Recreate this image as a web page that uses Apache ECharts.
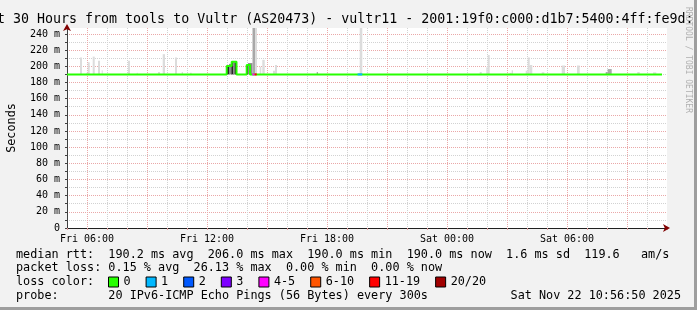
<!DOCTYPE html>
<html><head><meta charset="utf-8">
<script src="https://cdn.jsdelivr.net/npm/echarts@6/dist/echarts.min.js"></script>
<style>html,body{margin:0;padding:0;background:#f2f2f2;}#c{width:697px;height:310px;}</style>
</head><body><div id="c"></div>
<script>
// ---------------- data (hours since Fri 00:00, milliseconds) ----------------
const xTickHours  = [6, 12, 18, 24, 30];
const xTickLabels = ['Fri 06:00', 'Fri 12:00', 'Fri 18:00', 'Sat 00:00', 'Sat 06:00'];
const yTickValues = [0, 20, 40, 60, 80, 100, 120, 140, 160, 180, 200, 220, 240];
const yTickLabels = ['0', '20 m', '40 m', '60 m', '80 m', '100 m', '120 m', '140 m', '160 m', '180 m', '200 m', '220 m', '240 m'];

const medianHours = [5, 12.985, 13.235, 13.475, 13.985, 14.15, 34.75];
const medianMs    = [190, 200.5, 205.7, 190, 201.6, 190, 190];

const lossClasses = ['0', '1', '2', '3', '4-5', '6-10', '11-19', '20/20'];
const lossStart = [14.265, 14.385, 19.53];
const lossEnd   = [14.385, 14.485, 19.765];
const lossClass = ['4-5', '11-19', '1'];
const lossMs    = [190, 190, 190];

const smokeStart  = [5.65, 5.965, 6.035, 6.285, 6.55, 6.735, 8.05, 8.485, 9.55, 9.785, 10.4, 10.735, 11.15,
                     12.985, 13.1, 13.215, 13.325, 13.375, 13.985, 14.05, 14.275, 14.4, 14.635, 14.765, 15.3, 15.4,
                     17.485, 19.635, 25.635, 25.965, 26.035, 27.135, 27.235, 27.935, 28.035, 28.135, 28.735, 29.735,
                     30.5, 31.935, 32.035, 33.515, 34.3];
const smokeEnd    = [5.75, 6.035, 6.135, 6.385, 6.65, 6.785, 8.15, 8.535, 9.65, 9.9, 10.5, 10.8, 11.235,
                     13.1, 13.215, 13.325, 13.375, 13.5, 14.05, 14.275, 14.4, 14.5, 14.715, 14.885, 15.4, 15.5,
                     17.55, 19.765, 25.735, 26.035, 26.135, 27.235, 27.3, 28.035, 28.135, 28.265, 28.865, 29.9,
                     30.635, 32.035, 32.235, 33.635, 34.465];
const smokeBottom = [190, 190, 190, 190, 190, 190, 190, 190, 190, 190, 190, 190, 190,
                     190, 190, 190, 190, 190, 190, 190, 190, 190, 190, 190, 190, 190,
                     190, 190, 190, 190, 190, 190, 190, 190, 190, 190, 190, 190,
                     190, 190, 190, 190, 190];
const smokeTop    = [211, 192, 205, 212, 207, 195, 207, 192, 193, 215, 211, 193, 192,
                     200.5, 203, 205.7, 205, 205, 201.6, 204, 250, 250, 199.5, 208, 194.6, 201.6,
                     193, 250, 193, 198.8, 214, 192, 195, 194.6, 211, 201.6, 192.6, 201,
                     201, 193, 196.6, 193, 192.5];
// smoke density class: 0 sparse ... 3 dense
const smokeDensity = [0, 0, 0, 0, 0, 0, 0, 0, 0, 0, 0, 0, 0,
                      3, 2, 3, 2, 3, 3, 2, 1, 0, 0, 0, 0, 0,
                      1, 0, 0, 0, 0, 0, 0, 0, 0, 0, 0, 0,
                      0, 1, 1, 0, 0];

const rttStats  = ['190.2 ms avg', '206.0 ms max', '190.0 ms min', '190.0 ms now', '1.6 ms sd', '119.6   am/s'];
const lossStats = ['0.15 % avg', '26.13 % max', '0.00 % min', '0.00 % now'];
const probeText = '20 IPv6-ICMP Echo Pings (56 Bytes) every 300s';
const stampText = 'Sat Nov 22 10:56:50 2025';
const titleText = 'Last 30 Hours from tools to Vultr (AS20473) - vultr11 - 2001:19f0:c000:d1b7:5400:4ff:fe9d:c';

// ---------------- styles ----------------
const MONO = "'DejaVu Sans Mono', monospace";
const lossColors = {'0':'#26ff00','1':'#00b8ff','2':'#0059ff','3':'#7e00ff','4-5':'#ff00ff','6-10':'#ff5500','11-19':'#ff0000','20/20':'#a10000'};
const shadeColors = ['#dcdcdc', '#a8a8a8', '#8a8a8a', '#262626'];
const GRID = '#d2d2d2', MGRID = '#eaa8a8';

const chart = echarts.init(document.getElementById('c'), null, {renderer: 'canvas'});

const smokeData = smokeStart.map((s, i) => [s, smokeEnd[i], smokeBottom[i], smokeTop[i], smokeDensity[i]]);

const series = [{
  type: 'custom', name: 'smoke', xAxisIndex: 0, yAxisIndex: 0, z: 2, silent: true,
  encode: {x: [0, 1], y: [2, 3]},
  data: smokeData,
  renderItem: function (params, api) {
    const p0 = api.coord([api.value(0), api.value(3)]);
    const p1 = api.coord([api.value(1), api.value(2)]);
    const shape = echarts.graphic.clipRectByRect(
      {x: p0[0], y: p0[1], width: p1[0] - p0[0], height: p1[1] - p0[1]},
      {x: params.coordSys.x, y: params.coordSys.y, width: params.coordSys.width, height: params.coordSys.height});
    return shape && {type: 'rect', shape: shape, style: {fill: shadeColors[api.value(4)]}};
  }
}, {
  type: 'line', name: '0', z: 5, step: 'end', symbol: 'none', silent: true,
  data: medianHours.map((h, i) => [h, medianMs[i]]),
  lineStyle: {color: lossColors['0'], width: 2},
  itemStyle: {color: lossColors['0']}
}];
lossClasses.slice(1).forEach(c => {
  const d = [];
  lossClass.forEach((k, i) => { if (k === c) { if (d.length) d.push('-'); d.push([lossStart[i], lossMs[i]], [lossEnd[i], lossMs[i]]); } });
  series.push({type: 'line', name: c, z: 6, symbol: 'none', silent: true, data: d,
    lineStyle: {color: lossColors[c], width: 2}, itemStyle: {color: lossColors[c]}});
});

const legendLines = [
  'median rtt:  ' + rttStats.join('  '),
  'packet loss: ' + lossStats.join('  '),
  'loss color:',
  'probe:       ' + probeText
];

chart.setOption({
  animation: false,
  backgroundColor: '#f2f2f2',
  grid: {left: 67, top: 28, width: 600, height: 200, show: true, backgroundColor: '#ffffff', borderWidth: 0,
         containLabel: false, outerBoundsMode: 'none'},
  xAxis: [{
    type: 'value', position: 'bottom', min: 5, max: 35, interval: 1,
    axisLine: {show: true, onZero: false, lineStyle: {color: '#202020', width: 1}},
    axisTick: {show: true, length: 2, lineStyle: {color: '#e49b9b'}},
    axisLabel: {margin: 6, fontFamily: MONO, fontSize: 10, color: '#000', showMinLabel: true, showMaxLabel: true,
      formatter: v => { const i = xTickHours.indexOf(Math.round(v * 1000) / 1000); return i >= 0 ? xTickLabels[i] : ''; }},
    splitLine: {show: true, showMinLine: true, showMaxLine: false, lineStyle: {color: [GRID, MGRID, GRID], type: 'dotted', width: 1}}
  }, {
    type: 'value', position: 'bottom', min: 5, max: 35, interval: 1,
    axisLine: {show: true, onZero: false, lineStyle: {color: '#800000', width: 0}, symbol: ['none', 'arrow'], symbolSize: [6, 7], symbolOffset: [0, 3]},
    axisTick: {show: false}, axisLabel: {show: false}, splitLine: {show: false}
  }],
  yAxis: [{
    type: 'value', position: 'left', min: 0, max: 247.4, interval: 10,
    name: 'Seconds', nameLocation: 'middle', nameGap: 49, nameRotate: 90,
    nameTextStyle: {fontFamily: MONO, fontSize: 11.8, color: '#000'},
    axisLine: {show: true, onZero: false, lineStyle: {color: '#404040', width: 1}},
    axisTick: {show: true, length: 2, lineStyle: {color: '#404040'}},
    axisLabel: {margin: 7, fontFamily: MONO, fontSize: 10, color: '#000',
      formatter: v => { const i = yTickValues.indexOf(Math.round(v * 1000) / 1000); return i >= 0 ? yTickLabels[i] : ''; }},
    splitLine: {show: true, showMinLine: true, showMaxLine: false, lineStyle: {color: [MGRID, GRID], type: 'dotted', width: 1}}
  }, {
    type: 'value', position: 'left', min: 0, max: 247.4, interval: 10,
    axisLine: {show: true, onZero: false, lineStyle: {color: '#800000', width: 0}, symbol: ['none', 'arrow'], symbolSize: [6, 7], symbolOffset: [0, 4]},
    axisTick: {show: false}, axisLabel: {show: false}, splitLine: {show: false}
  }],
  legend: {
    show: true, left: 108, top: 276, padding: 0, itemWidth: 10, itemHeight: 10, itemGap: 15,
    icon: 'rect', selectedMode: false, data: lossClasses,
    itemStyle: {borderColor: '#000', borderWidth: 1},
    textStyle: {fontFamily: MONO, fontSize: 11.8, color: '#000', padding: 0}
  },
  series: series,
  graphic: [
    {type: 'text', x: -27, y: 19.5, silent: true,
      style: {text: titleText, font: '13.3px ' + MONO, fill: '#000', textAlign: 'left', textVerticalAlign: 'middle'}},
    {type: 'text', x: 688, y: 60, rotation: -Math.PI / 2, silent: true,
      style: {text: 'RRDTOOL / TOBI OETIKER', font: '8px ' + MONO, fill: '#b0b0b0', textAlign: 'center', textVerticalAlign: 'middle'}},
    {type: 'text', x: 16, y: 254.5, silent: true, style: {text: legendLines[0], font: '11.8px ' + MONO, fill: '#000', textVerticalAlign: 'middle'}},
    {type: 'text', x: 16, y: 268, silent: true, style: {text: legendLines[1], font: '11.8px ' + MONO, fill: '#000', textVerticalAlign: 'middle'}},
    {type: 'text', x: 16, y: 282, silent: true, style: {text: legendLines[2], font: '11.8px ' + MONO, fill: '#000', textVerticalAlign: 'middle'}},
    {type: 'text', x: 16, y: 296, silent: true, style: {text: legendLines[3], font: '11.8px ' + MONO, fill: '#000', textVerticalAlign: 'middle'}},
    {type: 'text', x: 681, y: 296, silent: true, style: {text: stampText, font: '11.8px ' + MONO, fill: '#000', textAlign: 'right', textVerticalAlign: 'middle'}},
    {type: 'rect', shape: {x: 694, y: 0, width: 3, height: 310}, style: {fill: '#9e9e9e'}, silent: true},
    {type: 'rect', shape: {x: 0, y: 307, width: 697, height: 3}, style: {fill: '#9e9e9e'}, silent: true}
  ]
});
</script></body></html>
